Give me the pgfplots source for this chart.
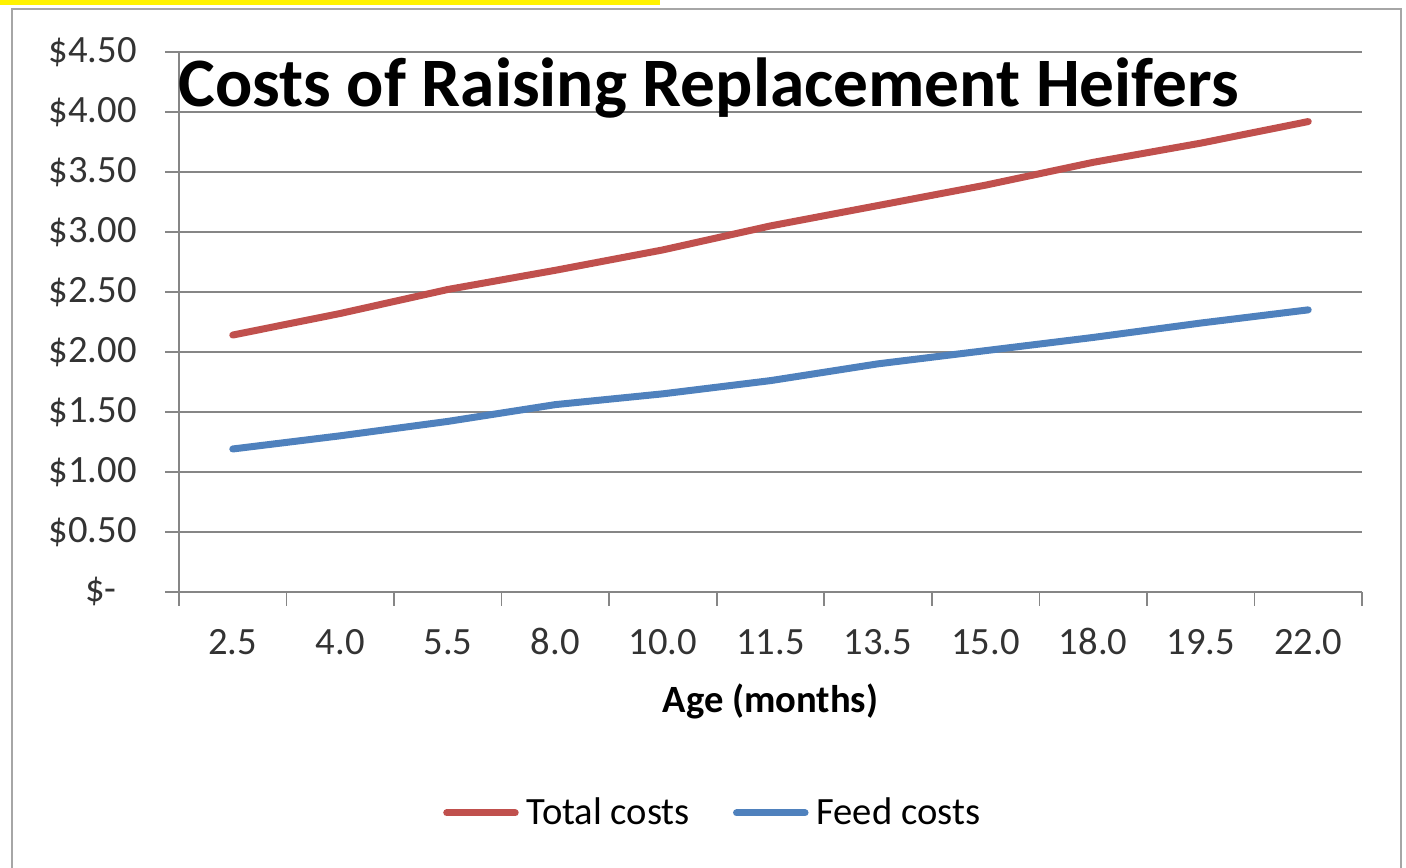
\documentclass[border=0pt]{standalone}
\usepackage{fontspec}
\setmainfont{Carlito}
\usepackage{pgfplots}
\pgfplotsset{compat=1.18}
\definecolor{totred}{HTML}{C0504D}
\definecolor{feedblue}{HTML}{4F81BD}
\definecolor{gridgray}{HTML}{868686}
\definecolor{framegray}{HTML}{A6A6A6}
\begin{document}
\begin{tikzpicture}
\useasboundingbox (0,0) rectangle (703pt,433.5pt);
\fill[yellow] (0,431pt) rectangle (330pt,434pt);
\draw[framegray, line width=1pt] (6pt,-5pt) rectangle (700.5pt,429pt);
\begin{axis}[
  scale only axis, width=591.5pt, height=269.85pt,
  anchor=south west, at={(89.5pt,137.65pt)},
  xmin=-0.5, xmax=10.5, ymin=0, ymax=4.5,
  axis x line=bottom, axis y line=left,
  axis line style={gridgray, line width=0.8pt, -},
  tick align=outside, major tick length=7pt,
  xtick={-0.5,0.5,1.5,2.5,3.5,4.5,5.5,6.5,7.5,8.5,9.5,10.5}, xticklabels={},
  extra x ticks={0,1,2,3,4,5,6,7,8,9,10},
  extra x tick labels={2.5,4.0,5.5,8.0,10.0,11.5,13.5,15.0,18.0,19.5,22.0},
  extra x tick style={major tick length=0pt, grid=none},
  ytick={0,0.5,1,1.5,2,2.5,3,3.5,4,4.5},
  yticklabels={\$-\rule{10pt}{0pt},\$0.50,\$1.00,\$1.50,\$2.00,\$2.50,\$3.00,\$3.50,\$4.00,\$4.50},
  ymajorgrids, major grid style={gridgray, line width=0.8pt},
  tick style={gridgray, line width=0.8pt},
  /pgf/number format/assume math mode=true,
  ticklabel style={font=\fontsize{19.3}{21}\selectfont, text=black!80},
  yticklabel style={anchor=east, inner sep=0pt, xshift=-14pt},
  xticklabel style={anchor=base, inner sep=0pt, yshift=-31.2pt},
  xlabel={Age (months)},
  xlabel style={font=\bfseries\fontsize{19.3}{21}\selectfont, at={(axis description cs:0.5,0)}, anchor=base, yshift=-60.6pt},
  legend style={at={(0.223,-0.41)}, anchor=west, draw=none, fill=none, inner sep=0pt,
    font=\fontsize{19.3}{21}\selectfont, nodes={inner sep=1.5pt},
    /tikz/every odd column/.append style={column sep=2.5pt},
    /tikz/every even column/.append style={column sep=20pt}},
  legend columns=2,
  legend image code/.code={\draw[#1, line width=3.5pt, line cap=round] (1.75pt,0pt) -- (36pt,0pt);},
]
\addplot[totred, line width=3.5pt, line cap=round, line join=round] coordinates {
 (0,2.14) (1,2.32) (2,2.52) (3,2.68) (4,2.85) (5,3.05) (6,3.22) (7,3.39) (8,3.58) (9,3.74) (10,3.92)};
\addlegendentry{Total costs}
\addplot[feedblue, line width=3.5pt, line cap=round, line join=round] coordinates {
 (0,1.19) (1,1.30) (2,1.42) (3,1.56) (4,1.65) (5,1.76) (6,1.90) (7,2.01) (8,2.12) (9,2.24) (10,2.35)};
\addlegendentry{Feed costs}
\end{axis}
\node[anchor=base west, inner sep=0pt, font=\bfseries\fontsize{34.7}{36}\selectfont] at (89pt,380pt) {Costs of Raising Replacement Heifers};
\end{tikzpicture}
\end{document}
